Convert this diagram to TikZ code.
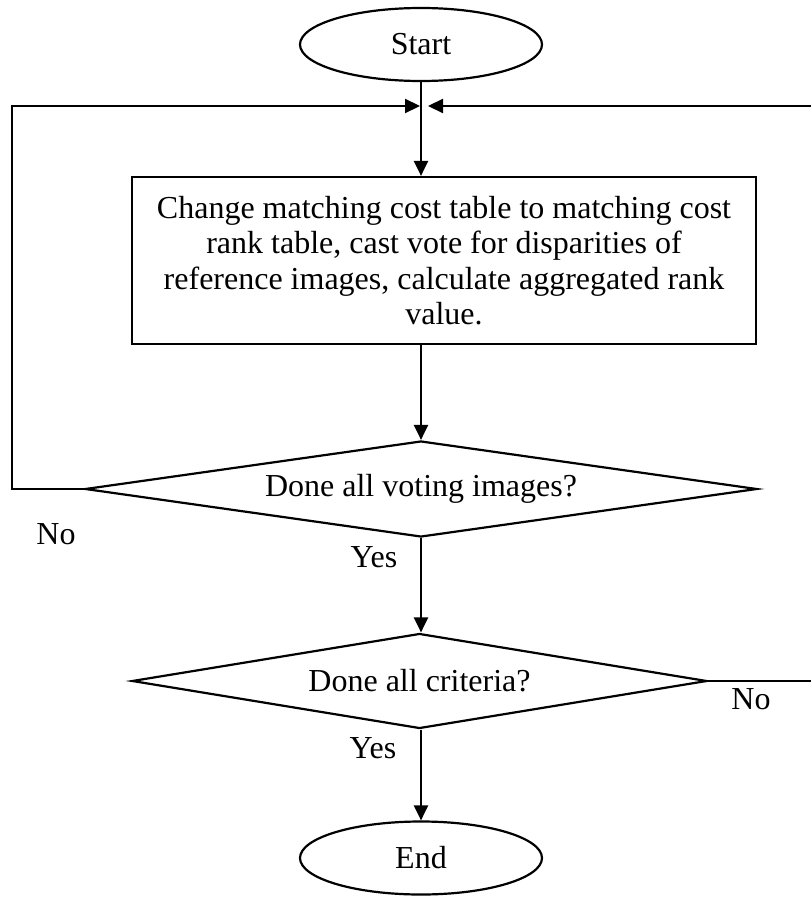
\documentclass[tikz,border=0pt]{standalone}
\usepackage{fontspec}
\setmainfont{Liberation Serif}
\usetikzlibrary{shapes.geometric,arrows.meta}

\begin{document}
\begin{tikzpicture}[x=1pt,y=-1pt,
  every node/.style={font=\fontsize{32}{35.5}\selectfont},
  conn/.style={line width=2.2pt},
  arr/.style={conn,-{Triangle[length=15pt,width=14pt]}},
  terminal/.style={draw,line width=2.2pt,ellipse,inner sep=0pt,
    minimum width=242pt,minimum height=73pt},
  procbox/.style={draw,line width=2.2pt,rectangle,align=center,inner sep=0pt,
    minimum width=624pt,minimum height=167pt},
  decision/.style={draw,line width=2.2pt,diamond,inner sep=0pt,shape aspect=7},
  lbl/.style={anchor=base,inner sep=0pt}]

% page area
\fill[white] (0,0) rectangle (811,899);
\useasboundingbox (0,0) rectangle (811,899);

% shapes
\node[terminal] (start) at (421,44.5) {Start};
\node[procbox] (proc) at (444,260.5)
  {Change matching cost table to matching cost\\
   rank table, cast vote for disparities of\\
   reference images, calculate aggregated rank\\
   value.};
\node[decision,minimum width=672pt,minimum height=96pt] (vote) at (421,489)
  {Done all voting images?};
\node[decision,minimum width=575pt,minimum height=95pt] (crit) at (419.5,681)
  {Done all criteria?};
\node[terminal] (end) at (421,858) {End};

% loop junction points and edge exits
\coordinate (joinL) at (420,106);
\coordinate (joinR) at (428,106);
\coordinate (loopL) at (12,489);
\coordinate (rightTop) at (811,106);
\coordinate (rightBot) at (811,681);

% main flow
\draw[arr] (start.south) -- (start.south |- proc.north);
\draw[arr] (vote.north |- proc.south) -- (vote.north);
\draw[arr] (vote.south) -- (vote.south |- crit.north);
\draw[arr] (crit.south -| end.north) -- (end.north);

% loop back from the first decision
\draw[arr] (vote.west) -- (loopL) |- (joinL);

% loop back from the second decision
\draw[conn] (crit.east) -- (rightBot);
\draw[arr] (rightTop) -- (joinR);

% branch labels
\node[lbl] (noA) at (56,544) {No};
\node[lbl] (yesA) at (374,567) {Yes};
\node[lbl] (yesB) at (373,758) {Yes};
\node[lbl] (noB) at (751,709) {No};
\end{tikzpicture}
\end{document}
